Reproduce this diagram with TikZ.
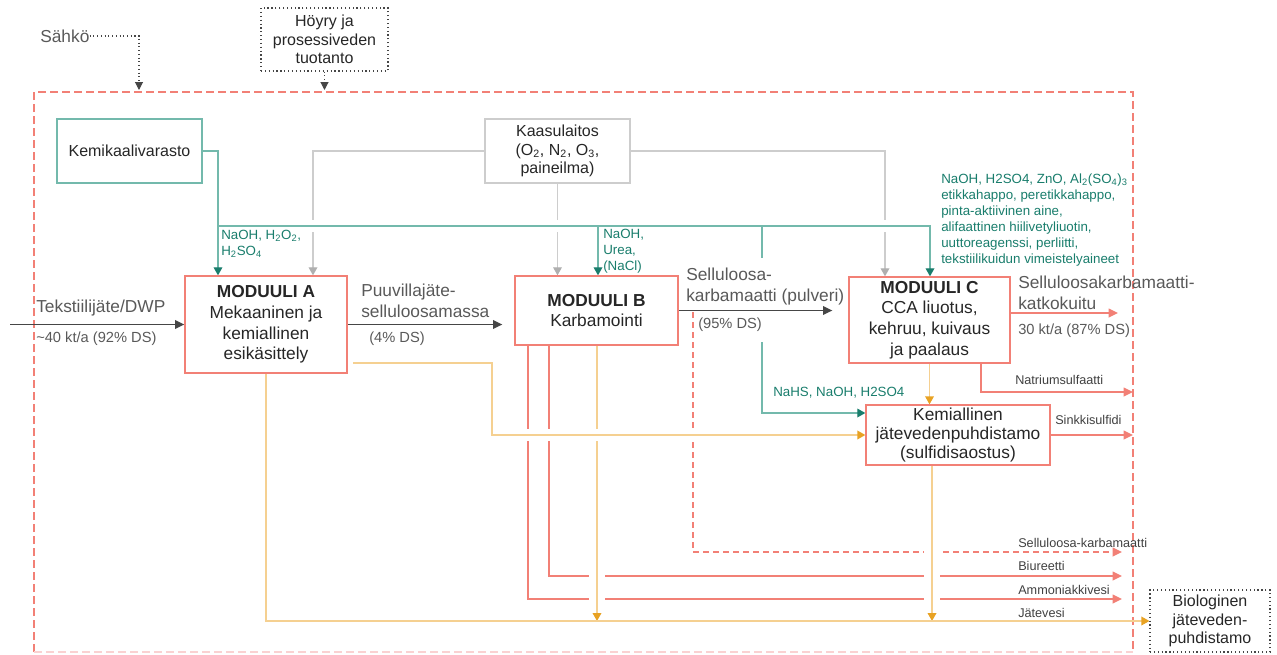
\documentclass[tikz,border=0pt]{standalone}
\usepackage{fontspec}
\setmainfont{Liberation Sans}
\usetikzlibrary{arrows.meta,calc,backgrounds}

\definecolor{lohi}{RGB}{242,128,118}
\definecolor{lohiv}{RGB}{250,210,210}
\definecolor{tavi}{RGB}{115,185,172}
\definecolor{tavit}{RGB}{25,125,108}
\definecolor{harmaa}{RGB}{205,205,205}
\definecolor{harmaat}{RGB}{175,175,175}
\definecolor{oranssi}{RGB}{245,208,145}
\definecolor{oranssit}{RGB}{232,162,35}
\definecolor{tumma}{RGB}{70,70,70}
\definecolor{teksti}{RGB}{89,89,89}

\tikzset{
  modbox/.style={draw=lohi, line width=1pt, align=center, inner sep=0pt,
    text=black!85, font=\fontsize{13}{15.5}\selectfont},
  box/.style={line width=0.9pt, align=center, inner sep=0pt,
    text=black!85, font=\fontsize{12}{14}\selectfont},
  lbl/.style={anchor=west, align=left, inner sep=0pt, text=teksti,
    font=\fontsize{13}{15.5}\selectfont},
  pien/.style={anchor=west, inner sep=0pt, text=teksti, font=\fontsize{11}{13}\selectfont},
  pien2/.style={anchor=west, inner sep=0pt, text=black!75, font=\fontsize{9.5}{11}\selectfont},
  kemt/.style={anchor=west, align=left, inner sep=0pt, text=tavit,
    font=\fontsize{10}{12}\selectfont},
  flow/.style={draw=tumma, line width=1.1pt, -{Triangle[length=7pt,width=6.5pt]}},
  sflow/.style={draw=lohi, line width=1.1pt, -{Triangle[length=7pt,width=6.5pt]}},
  tarr/.style={draw=tavi, line width=0.9pt, -{Triangle[length=6pt,width=6.5pt,color=tavit]}},
  tline/.style={draw=tavi, line width=0.9pt},
  garr/.style={draw=harmaa, line width=0.9pt, -{Triangle[length=6pt,width=6.5pt,color=harmaat]}},
  oarr/.style={draw=oranssi, line width=1pt, -{Triangle[length=6pt,width=6.5pt,color=oranssit]}},
  pist/.style={draw=tumma, dotted, line width=0.8pt, -{Triangle[length=6pt,width=6pt]}},
  raja/.style={draw=lohi, line width=0.9pt, dash pattern=on 6pt off 3pt},
  halo/.style={preaction={draw=white, line width=#1, arrows=-}},
  halo/.default=9pt
}

\begin{document}
\begin{tikzpicture}[x=0.75pt, y=-0.75pt]
  \useasboundingbox (0,0) rectangle (1277,654);

  % laatikot
  \node[modbox, minimum width=121.5pt, minimum height=72.75pt] (modA) at (266,324.5)
    {\textbf{MODUULI A}\\Mekaaninen ja\\kemiallinen\\esikäsittely};
  \node[modbox, minimum width=122.25pt, minimum height=51.75pt] (modB) at (596.5,310.5)
    {\textbf{MODUULI B}\\Karbamointi};
  \node[modbox, minimum width=120.75pt, minimum height=64.5pt] (modC) at (929.5,320)
    {\textbf{MODUULI C}\\CCA liuotus,\\kehruu, kuivaus\\ja paalaus};
  \node[modbox, minimum width=138pt, minimum height=45pt, font=\fontsize{13}{14.5}\selectfont] (kem) at (958,435)
    {Kemiallinen\\jätevedenpuhdistamo\\(sulfidisaostus)};
  \node[box, draw=tavi, minimum width=108.75pt, minimum height=48pt] (kemvar) at (129.5,151) {Kemikaalivarasto};
  \node[box, draw=harmaa, minimum width=108.75pt, minimum height=48pt] (kaasu) at (557.5,151)
    {Kaasulaitos\\(O\textsubscript{2}, N\textsubscript{2}, O\textsubscript{3},\\paineilma)};
  \node[box, draw=tumma, dotted, minimum width=95.25pt, minimum height=47.25pt] (hoyry) at (324.5,39.5)
    {Höyry ja\\prosessiveden\\tuotanto};
  \node[box, draw=tumma, dotted, minimum width=90pt, minimum height=46.5pt] (bio) at (1210,621)
    {Biologinen\\jäteveden-\\puhdistamo};

  % tekstit
  \node[lbl] (sahko) at (40,36) {Sähkö};
  \node[lbl] (tekst) at (36,308) {Tekstiilijäte/DWP};
  \node[pien] (tekstm) at (36,339) {\textasciitilde40 kt/a (92\% DS)};
  \node[lbl] (puuv) at (361,300.5) {Puuvillajäte-\\selluloosamassa};
  \node[pien] (puuvm) at (369,339) {(4\% DS)};
  \node[lbl] (sk) at (686,286.5) {Selluloosa-\\karbamaatti (pulveri)};
  \node[pien] (skm) at (698,325) {(95\% DS)};
  \node[lbl] (kuitu) at (1018,292.5) {Selluloosakarbamaatti-\\katkokuitu};
  \node[pien] (kuitum) at (1018,331) {30 kt/a (87\% DS)};

  \node[kemt] (kA) at (221,244) {NaOH, H\textsubscript{2}O\textsubscript{2},\\H\textsubscript{2}SO\textsubscript{4}};
  \node[kemt] (kB) at (603,251) {NaOH,\\Urea,\\(NaCl)};
  \node[kemt] (kC) at (941,220) {NaOH, H2SO4, ZnO, Al\textsubscript{2}(SO\textsubscript{4})\textsubscript{3}\\
    etikkahappo, peretikkahappo,\\pinta-aktiivinen aine,\\alifaattinen hiilivetyliuotin,\\
    uuttoreagenssi, perliitti,\\tekstiilikuidun vimeistelyaineet};
  \node[kemt] (kK) at (773,393) {NaHS, NaOH, H2SO4};

  \node[pien2] (natr) at (1015,380) {Natriumsulfaatti};
  \node[pien2] (sink) at (1055,420) {Sinkkisulfidi};
  \foreach \y/\t [count=\i] in {543/Selluloosa-karbamaatti,566/Biureetti,590/Ammoniakkivesi,613/Jätevesi}
    {\node[pien2] (out\i) at (1018,\y) {\t};}

  % pisteet
  \coordinate (inp) at (10,324.5);
  \coordinate (sArr) at (139,90);
  \coordinate (hArr) at (324.5,90);
  \coordinate (kuitEnd) at (1118,313);
  \coordinate (naTop) at (981,363);
  \coordinate (naEnd) at (1133,392);
  \coordinate (busA) at (218,226);
  \coordinate (busB) at (598,226);
  \coordinate (busK) at (762,226);
  \coordinate (busC) at (930,226);
  \coordinate (kStart) at (762,342);
  \coordinate (kTurn) at (762,413);
  \coordinate (gA) at (313,151);
  \coordinate (gC) at (885,151);
  \coordinate (skd) at (693,312);
  \coordinate (skEnd) at (1122,552);
  \coordinate (bi) at (549,576);
  \coordinate (biEnd) at (1122,576);
  \coordinate (am) at (528,599);
  \coordinate (amEnd) at (1122,599);
  \coordinate (oA) at (353,363);
  \coordinate (oB) at (492,435);
  \coordinate (jB) at (597,621);
  \coordinate (jK) at (932,621);

  \begin{scope}[on background layer]
    \draw[raja] (34,652) -- (34,92) -- (1133,92) -- (1133,652);
    \draw[raja, draw=lohiv] (34,652) -- (1133,652);

    \draw[pist] (sahko.east) -| (sArr);
    \draw[pist] (hoyry.south) -- (hArr);

    \draw[garr] (kaasu.west) -| (gA |- modA.north);
    \draw[garr] (kaasu.south) -- (kaasu.south |- modB.north);
    \draw[garr] (kaasu.east) -| (gC |- modC.north);

    \draw[tarr, halo] (busA) -- (busC) -- (busC |- modC.north);
    \draw[tarr] (kemvar.east) -| (busA |- modA.north);
    \draw[tarr] (busB) -- (busB |- modB.north);
    \draw[tline] (busK) -- ++(0,32);
    \draw[tarr] (kStart) -- (kTurn) -- (kTurn -| kem.west);

    \draw[flow] (inp) -- (modA.west);
    \draw[flow, shorten >=9pt] (modA.east) -- (modA.east -| modB.west);
    \draw[flow, shorten >=12pt] (modB.east) -- (modB.east -| modC.west);

    \draw[sflow] (modC.east |- kuitEnd) -- (kuitEnd);
    \draw[sflow] (naTop) |- (naEnd);
    \draw[sflow] (kem.east) -- (kem.east -| naEnd);
    \draw[sflow, dash pattern=on 4.5pt off 3pt] (skd) |- (skEnd);
    \draw[sflow] (bi |- modB.south) |- (biEnd);
    \draw[sflow] (am |- modB.south) |- (amEnd);

    \draw[oarr] (modC.south) -- (modC.south |- kem.north);
    \draw[oarr, halo=12pt] (jB |- modB.south) -- (jB);
    \draw[oarr, halo=12pt] (jK |- kem.south) -- (jK);
    \draw[oarr, halo] (oA) -| (oB) -- (kem.west);
    \draw[oarr] (modA.south) |- (bio.west);
  \end{scope}
\end{tikzpicture}
\end{document}
